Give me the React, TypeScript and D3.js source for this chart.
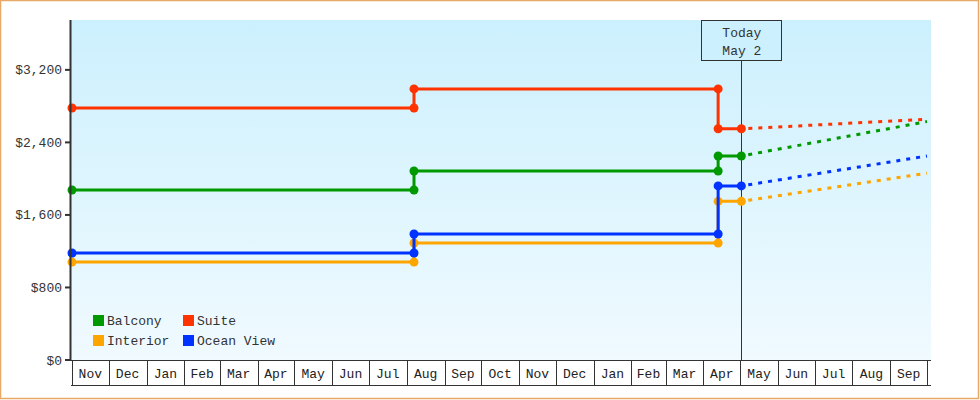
import * as d3 from 'd3';

const W = 980;
const H = 400;

// price history, one point per change
const balconyDates = ['2023-11-01', '2024-08-07', '2024-08-07', '2025-04-13', '2025-04-13', '2025-05-02'];
const balconyPrices = [1875, 1875, 2085, 2085, 2250, 2250];
const suiteDates = ['2023-11-01', '2024-08-07', '2024-08-07', '2025-04-13', '2025-04-13', '2025-05-02'];
const suitePrices = [2780, 2780, 2990, 2990, 2550, 2550];
const interiorDates = ['2023-11-01', '2024-08-07', '2024-08-07', '2025-04-13', '2025-04-13', '2025-05-02'];
const interiorPrices = [1080, 1080, 1290, 1290, 1750, 1750];
const oceanDates = ['2023-11-01', '2024-08-07', '2024-08-07', '2025-04-13', '2025-04-13', '2025-05-02'];
const oceanPrices = [1180, 1180, 1390, 1390, 1920, 1920];

// projected prices at the end of the range
const projectionDate = '2025-10-01';
const projectedBalcony = 2630;
const projectedSuite = 2655;
const projectedInterior = 2060;
const projectedOcean = 2250;

const yTicks = [0, 800, 1600, 2400, 3200];
const monthLabels = ['Nov', 'Dec', 'Jan', 'Feb', 'Mar', 'Apr', 'May', 'Jun', 'Jul', 'Aug', 'Sep', 'Oct', 'Nov', 'Dec', 'Jan', 'Feb', 'Mar', 'Apr', 'May', 'Jun', 'Jul', 'Aug', 'Sep'];
const todayDate = '2025-05-02';

const parse = d3.timeParse('%Y-%m-%d');

const series = [
  { name: 'Balcony', color: '#009900', dates: balconyDates, prices: balconyPrices, projected: projectedBalcony },
  { name: 'Suite', color: '#ff3300', dates: suiteDates, prices: suitePrices, projected: projectedSuite },
  { name: 'Interior', color: '#ffa500', dates: interiorDates, prices: interiorPrices, projected: projectedInterior },
  { name: 'Ocean View', color: '#0033ff', dates: oceanDates, prices: oceanPrices, projected: projectedOcean },
];

const FONT = '"Liberation Mono", monospace';

export default function App() {
  const left = 71;
  const top = 20;
  const plotRight = 931;
  const bottom = 360;

  const start = parse('2023-11-01')!;
  const end = parse('2025-10-01')!;
  const x = d3.scaleTime().domain([start, end]).range([72, 927]);
  const y = d3.scaleLinear().domain([0, 3750]).range([bottom, top]);

  const months = d3.timeMonth.range(start, end);
  const line = d3
    .line<[Date, number]>()
    .x((d) => x(d[0]))
    .y((d) => y(d[1]));

  const today = parse(todayDate)!;
  const tx = x(today);

  return (
    <svg width={W} height={H} style={{ position: 'absolute', left: 0, top: 0 }} fontFamily={FONT}>
      <defs>
        <linearGradient id="bg" x1="0" y1="0" x2="0" y2="1">
          <stop offset="0%" stopColor="#ccf0fd" />
          <stop offset="100%" stopColor="#f0faff" />
        </linearGradient>
      </defs>
      <rect x={0.5} y={0.5} width={W - 2} height={H - 2} fill="#fff" stroke="#e8a968" strokeWidth={1.5} />

      {/* plot area */}
      <rect x={left} y={top} width={plotRight - left} height={bottom - top} fill="url(#bg)" />

      {/* y axis */}
      {yTicks.map((t) => (
        <g key={t}>
          <line x1={65} x2={70} y1={y(t)} y2={y(t)} stroke="#333" strokeWidth={2} />
          <text x={62} y={y(t) + 4.5} textAnchor="end" fontSize={13} fill="#333">
            {d3.format('$,')(t)}
          </text>
        </g>
      ))}

      {/* x axis month cells */}
      <line x1={left} x2={plotRight} y1={bottom + 0.5} y2={bottom + 0.5} stroke="#333" />
      <line x1={left} x2={plotRight} y1={385.5} y2={385.5} stroke="#333" />
      {months.map((m, i) => {
        const x0 = x(m);
        const x1 = x(d3.timeMonth.offset(m, 1));
        return (
          <g key={i}>
            <line x1={Math.round(x0) + 0.5} x2={Math.round(x0) + 0.5} y1={bottom} y2={385} stroke="#333" />
            {i === months.length - 1 && (
              <line x1={Math.round(x1) + 0.5} x2={Math.round(x1) + 0.5} y1={bottom} y2={385} stroke="#333" />
            )}
            <text x={(x0 + x1) / 2} y={378} textAnchor="middle" fontSize={13} fill="#222">
              {monthLabels[i]}
            </text>
          </g>
        );
      })}

      {/* today marker */}
      <line x1={Math.round(tx) + 0.5} x2={Math.round(tx) + 0.5} y1={60} y2={bottom} stroke="#333" />
      <rect x={701.5} y={20.5} width={80} height={40} fill="#ccf0fd" stroke="#333" />
      <text x={tx + 0.5} y={37} textAnchor="middle" fontSize={13} fill="#333">
        Today
      </text>
      <text x={tx + 0.5} y={55} textAnchor="middle" fontSize={13} fill="#333">
        May 2
      </text>

      {/* projections */}
      {series.map((s) => {
        const last = s.prices[s.prices.length - 1];
        const pts: [Date, number][] = [
          [parse(s.dates[s.dates.length - 1])!, last],
          [parse(projectionDate)!, s.projected],
        ];
        return (
          <path
            key={s.name + '-proj'}
            d={line(pts) || ''}
            fill="none"
            stroke={s.color}
            strokeWidth={3}
            strokeDasharray="4,6"
            strokeDashoffset={-7}
          />
        );
      })}

      {/* history */}
      {series.map((s) => {
        const pts: [Date, number][] = s.dates.map((d, i) => [parse(d)!, s.prices[i]]);
        return (
          <g key={s.name}>
            <path d={line(pts) || ''} fill="none" stroke={s.color} strokeWidth={3} />
            {pts.map((p, i) => (
              <circle key={i} cx={x(p[0])} cy={y(p[1])} r={4.5} fill={s.color} />
            ))}
          </g>
        );
      })}

      {/* legend */}
      {series.map((s, i) => {
        const lx = i % 2 === 0 ? 93 : 183;
        const ly = i < 2 ? 315 : 335;
        return (
          <g key={s.name + '-lg'}>
            <rect x={lx} y={ly} width={11} height={11} fill={s.color} />
            <text x={lx + 14} y={ly + 10} fontSize={13} fill="#333">
              {s.name}
            </text>
          </g>
        );
      })}

      {/* y axis line */}
      <line x1={70.5} x2={70.5} y1={top} y2={bottom + 1} stroke="#333" strokeWidth={2} />
    </svg>
  );
}
